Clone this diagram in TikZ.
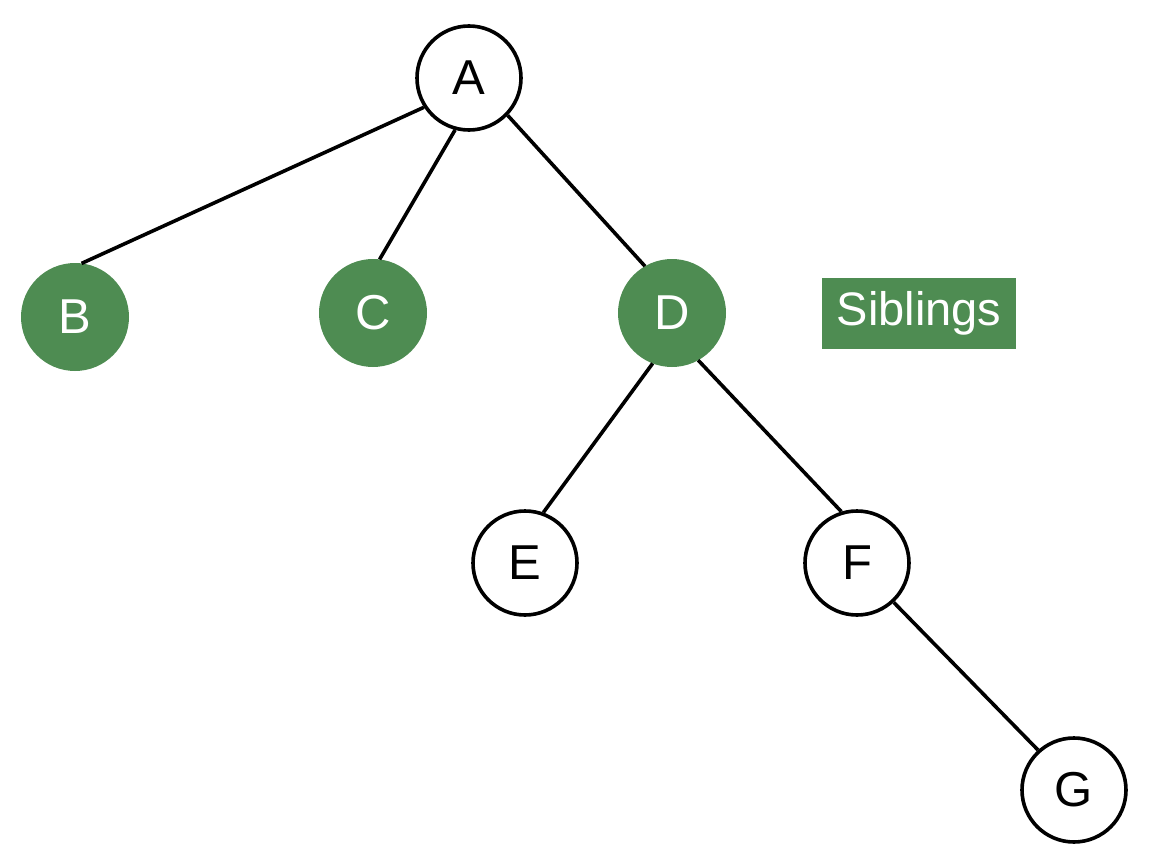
\documentclass[tikz,border=0pt]{standalone}
\usepackage{fontspec}
\setmainfont{Liberation Sans}
\definecolor{leafgreen}{RGB}{78,140,82}
\begin{document}
\begin{tikzpicture}[x=1pt,y=-1pt,
  plain/.style={circle,draw=black,line width=3.6pt,fill=white,minimum size=104pt,inner sep=0pt,font=\fontsize{49}{49}\selectfont},
  sib/.style={circle,fill=leafgreen,minimum size=108pt,inner sep=0pt,outer sep=0pt,text=white,font=\fontsize{49}{49}\selectfont},
  edge/.style={line width=3.6pt,black}]
\useasboundingbox (0,0) rectangle (1152,864);
\node[plain] (A) at (469,78) {A};
\node[sib] (B) at (75,317) {B};
\node[sib] (C) at (373,313) {C};
\node[sib] (D) at (672,313) {D};
\node[plain] (E) at (525,563) {E};
\node[plain] (F) at (857,563) {F};
\node[plain] (G) at (1074,790) {G};
\node[fill=leafgreen,text=white,minimum width=194pt,minimum height=71pt,inner sep=0pt,font=\fontsize{47}{47}\selectfont] (S) at (919,313) {Siblings};
\draw[edge] (A.213) -- (B.83);
\draw[edge] (A.255) -- (C.83);
\draw[edge] (A.316) -- (D.120);
\draw[edge] (D.249) -- (E.70);
\draw[edge] (D.299) -- (F.107);
\draw[edge] (F.313) -- (G.132);
\end{tikzpicture}
\end{document}
